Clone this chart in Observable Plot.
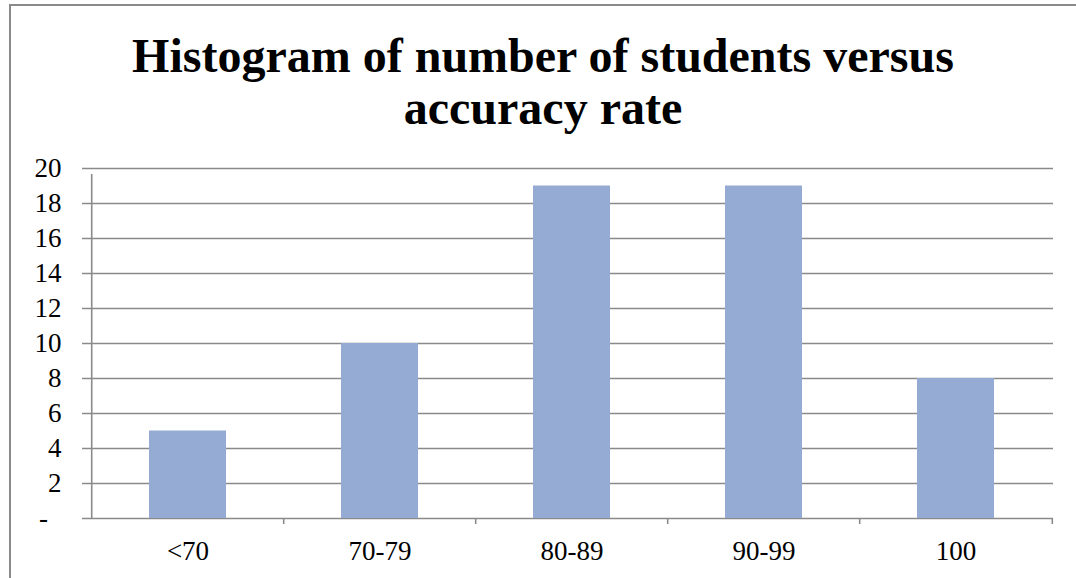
<!DOCTYPE html>
<html>
<head>
<meta charset="utf-8">
<script src="https://cdn.jsdelivr.net/npm/d3@7"></script>
<script src="https://cdn.jsdelivr.net/npm/@observablehq/plot@0.6"></script>
<style>
  body { margin: 0; background: white; }
  #wrap { position: relative; width: 1076px; height: 578px; overflow: hidden; background: white; }
  #border { position: absolute; left: 9px; top: 4px; width: 1200px; height: 700px; border: 2px solid #8a8a8a; box-sizing: border-box; }
  #title { position: absolute; left: 10px; right: 0; top: 30px; text-align: center; font-family: "Liberation Serif", "Times New Roman", serif; font-weight: bold; font-size: 48px; line-height: 52px; color: black; }
  #chart { position: absolute; left: 0; top: 150px; }
</style>
</head>
<body>
<div id="wrap">
  <div id="border"></div>
  <div id="title">Histogram of number of students versus<br>accuracy rate</div>
  <div id="chart"></div>
</div>
<script>
const categories = ["<70", "70-79", "80-89", "90-99", "100"];
const counts = [5, 10, 19, 19, 8];
const yTicks = [0, 2, 4, 6, 8, 10, 12, 14, 16, 18, 20];

const data = categories.map((c, i) => ({cat: c, n: counts[i]}));

const W = 1076, ML = 90, MR = 23;
const step = (W - ML - MR) / categories.length;
const boundaries = categories.map((c, i) => ({cat: c, top: i === 0 ? 20 : 0, side: -1}))
  .concat([{cat: categories[categories.length - 1], top: 0, side: 1}]);

const grid = "#8a8a8a";

const chart = Plot.plot({
  width: W,
  height: 428,
  marginTop: 18,
  marginBottom: 60,
  marginLeft: ML,
  marginRight: MR,
  style: {fontFamily: "'Liberation Serif', 'Times New Roman', serif", fontSize: "27px", color: "black", background: "transparent"},
  x: {domain: categories, paddingInner: 0.6, paddingOuter: 0.3, label: null},
  y: {domain: [0, 20], label: null},
  marks: [
    Plot.ruleY(yTicks, {y: d => d, stroke: grid, strokeWidth: 1.6, strokeOpacity: 1, insetLeft: -8}),
    Plot.barY(data, {x: "cat", y: "n", fill: "#95abd3"}),
    Plot.ruleX(boundaries.filter(d => d.side < 0), {x: "cat", y1: 0, y2: "top", dx: -step / 2, insetBottom: -6, stroke: grid, strokeWidth: 1.6, strokeOpacity: 1}),
    Plot.ruleX(boundaries.filter(d => d.side > 0), {x: "cat", y1: 0, y2: "top", dx: step / 2, insetBottom: -6, stroke: grid, strokeWidth: 1.6, strokeOpacity: 1}),
    Plot.axisY({ticks: yTicks, tickSize: 0, tickPadding: 29, tickFormat: d => d === 0 ? "-\u00a0\u00a0" : String(d), fontSize: 27, fill: "black", label: null}),
    Plot.axisX({tickSize: 0, tickPadding: 22, fontSize: 27, fill: "black", label: null})
  ]
});
document.getElementById("chart").appendChild(chart);
</script>
</body>
</html>
